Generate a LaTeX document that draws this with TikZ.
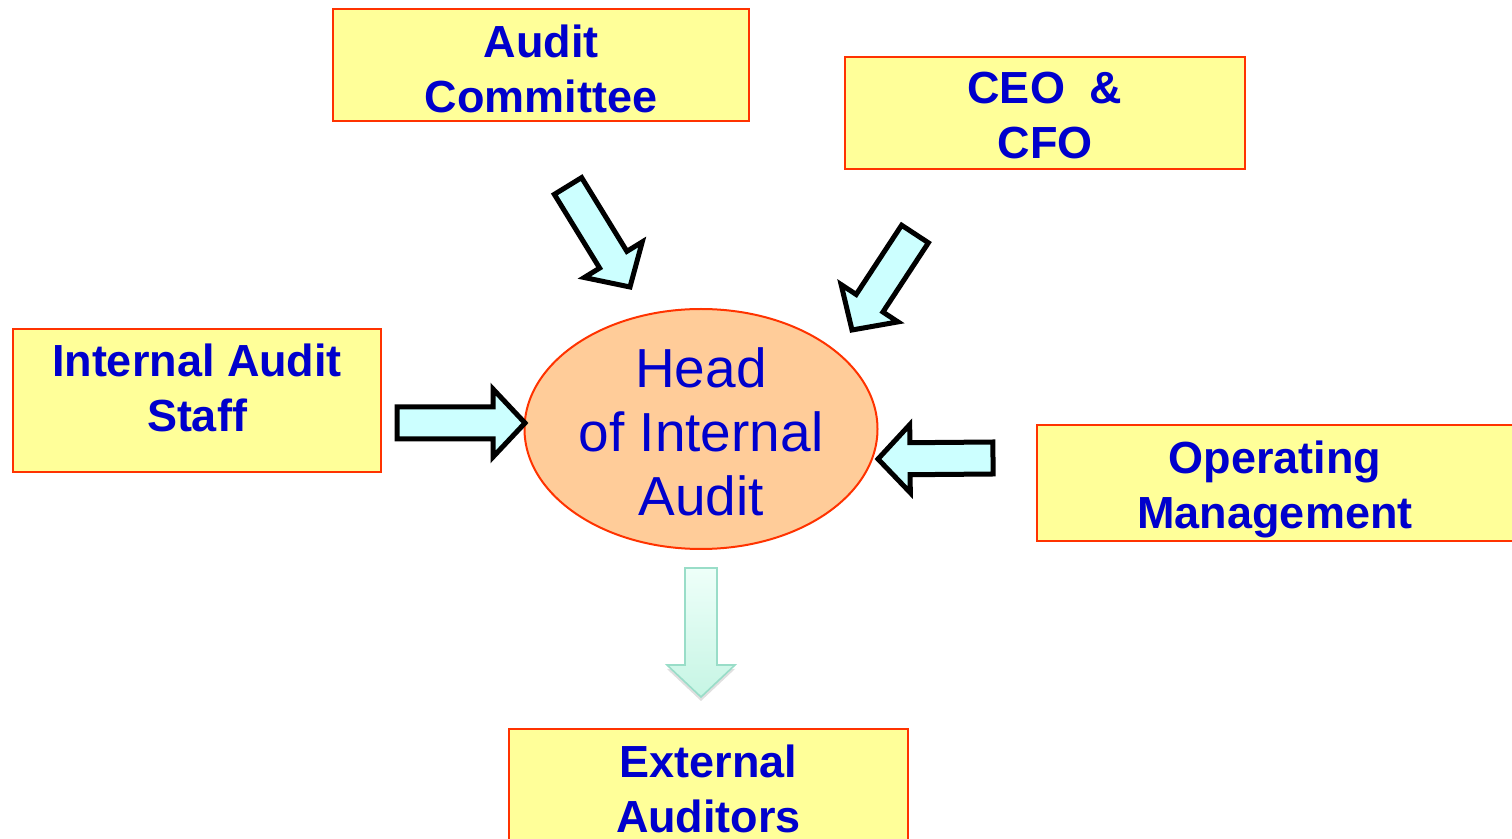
\documentclass[tikz,border=0pt]{standalone}
\usepackage{fontspec}
\setmainfont{Liberation Sans}
\usetikzlibrary{calc,shapes.geometric,shadows}

\definecolor{boxfill}{HTML}{FFFF99}
\definecolor{boxline}{HTML}{FF3300}
\definecolor{textblue}{HTML}{0000CC}
\definecolor{headfill}{HTML}{FFCC99}
\definecolor{arrowfill}{HTML}{CCFFFF}
\definecolor{downtop}{HTML}{EEFFF9}
\definecolor{downbot}{HTML}{C6F5E4}
\definecolor{downline}{HTML}{99DDC8}

% block arrow from #2 to #3
\newcommand{\fatarrow}[3][]{%
	\coordinate (fa-c) at ($(#3)!16pt!(#2)$);
	\draw[#1] ($(#2)!8pt!90:(#3)$) -- ($(fa-c)!8pt!90:(#3)$) -- ($(fa-c)!17pt!90:(#3)$) -- (#3)
		-- ($(fa-c)!17pt!-90:(#3)$) -- ($(fa-c)!8pt!-90:(#3)$) -- ($(#2)!8pt!-90:(#3)$) -- cycle;
}

\begin{document}
\begin{tikzpicture}[
	x=0.5pt,y=-0.5pt,
	box/.style={draw=boxline,line width=1pt,fill=boxfill,inner sep=0pt},
	boxtext/.style={text=textblue,align=center,inner sep=0pt,font=\bfseries\fontsize{22.5}{27.5}\selectfont},
	inflow/.style={draw=black,line width=2.5pt,fill=arrowfill},
	outflow/.style={draw=downline,line width=0.8pt,top color=downtop,bottom color=downbot,
		drop shadow={opacity=0.25,shadow xshift=0pt,shadow yshift=-2pt}}
]
\useasboundingbox (0,0) rectangle (1512,839);
\clip (0,0) rectangle (1512,839);

\node[box,minimum width=208pt,minimum height=56pt] (committee) at (541,65) {};
\node[box,minimum width=200pt,minimum height=56pt] (ceo) at (1045,113) {};
\node[box,minimum width=184pt,minimum height=71.5pt] (staff) at (197,400.5) {};
\node[box,minimum width=238pt,minimum height=58pt] (ops) at (1275,483) {};
\node[box,minimum width=199.5pt,minimum height=56pt] (external) at (708.5,785) {};

\node[boxtext] (committee-text) at ([yshift=-2pt]committee.center) {Audit\\Committee};
\node[boxtext] (ceo-text) at ([yshift=-1.5pt]ceo.center) {CEO~~\&\\CFO};
\node[boxtext] (staff-text) at ([yshift=6.5pt]staff.center) {Internal Audit\\Staff};
\node[boxtext] (ops-text) at ([yshift=-3pt]ops.center) {Operating\\Management};
\node[boxtext] (external-text) at ([yshift=-2pt]external.center) {External\\Auditors};

\node[ellipse,draw=boxline,line width=1pt,fill=headfill,inner sep=0pt,
	minimum width=176.5pt,minimum height=120pt] (head) at (701,429) {};
\node[text=textblue,align=center,inner sep=0pt,font=\fontsize{27.5}{32}\selectfont]
	(head-text) at ([yshift=-1.5pt]head.center) {Head\\of Internal\\Audit};

\coordinate (a1s) at (568,186);
\coordinate (a1e) at (630,287);
\coordinate (a2s) at (915,234);
\coordinate (a2e) at (852,330);
\coordinate (a3s) at (397,423);
\coordinate (a3e) at (525,423);
\coordinate (a4s) at (993,458);
\coordinate (a4e) at (878,459);
\coordinate (a5s) at (701,568);
\coordinate (a5e) at (701,697);

\fatarrow[inflow]{a1s}{a1e}
\fatarrow[inflow]{a2s}{a2e}
\fatarrow[inflow]{a3s}{a3e}
\fatarrow[inflow]{a4s}{a4e}
\fatarrow[outflow]{a5s}{a5e}
\end{tikzpicture}
\end{document}
